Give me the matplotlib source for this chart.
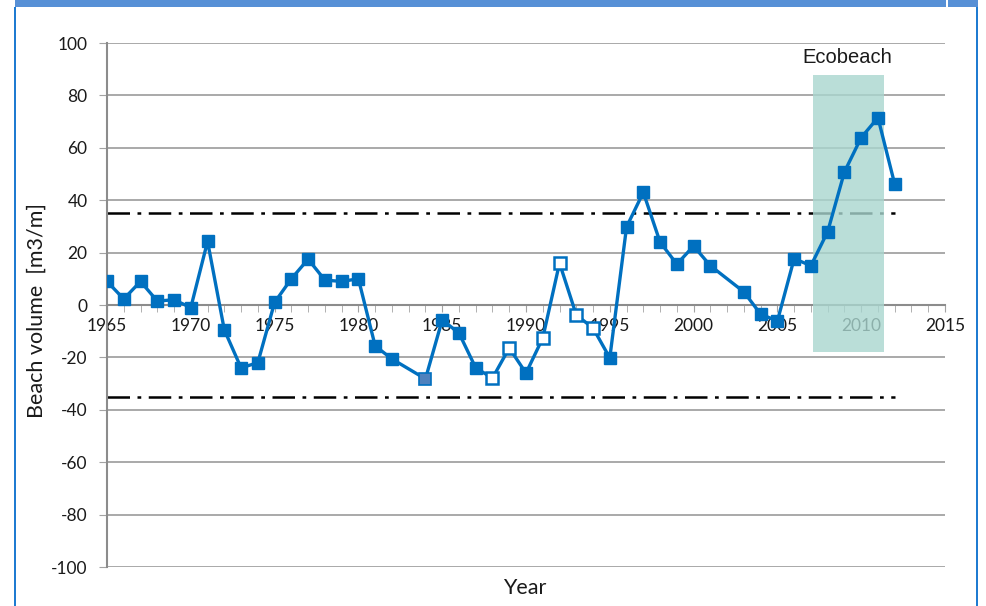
#!/usr/bin/env python3
"""Beach volume anomaly per year, with the Ecobeach period shaded."""

import matplotlib

matplotlib.use("Agg")
import matplotlib.pyplot as plt
import matplotlib.ticker as mticker
from matplotlib.patches import Rectangle

years = [1965, 1966, 1967, 1968, 1969, 1970, 1971, 1972, 1973, 1974,
         1975, 1976, 1977, 1978, 1979, 1980, 1981, 1982, 1984, 1985,
         1986, 1987, 1988, 1989, 1990, 1991, 1992, 1993, 1994, 1995,
         1996, 1997, 1998, 1999, 2000, 2001, 2003, 2004, 2005, 2006,
         2007, 2008, 2009, 2010, 2011, 2012]
volume = [9, 2.3, 9, 1.5, 2, -1, 24.3, -9.5, -24, -22,
          1, 10, 17.5, 9.5, 9, 10, -15.6, -20.6, -28.2, -5.7,
          -10.7, -24, -27.9, -16.4, -26, -12.6, 16, -3.8, -8.8, -20.2,
          29.8, 43, 24, 15.6, 22.5, 15, 5, -3.5, -6.1, 17.7,
          15, 28, 50.8, 63.9, 71.5, 46.1]
hollow_years = [1988, 1989, 1991, 1992, 1993, 1994]
odd_years = [1984]

threshold = 35
threshold_span = (1965, 2012)
eco_span = (2007.1, 2011.35)
eco_vspan = (-17.9, 87.8)

BLUE = "#0070C0"
FRAME = "#1F7BD1"
GRID = "#a3a3a3"
TEXT = "#1a1a1a"

plt.rcParams["font.family"] = ["Lato", "DejaVu Sans"]

fig = plt.figure(figsize=(9.86, 6.06), dpi=100)
ax = fig.add_axes([107 / 986, 1 - 567 / 606, (945 - 107) / 986, (567 - 43) / 606])

ax.set_xlim(1965, 2015)
ax.set_ylim(-100, 100)
ax.yaxis.set_major_locator(mticker.MultipleLocator(20))
ax.xaxis.set_major_locator(mticker.MultipleLocator(5))
ax.xaxis.set_minor_locator(mticker.MultipleLocator(1))
ax.grid(True, axis="y", color=GRID, linewidth=1.3, zorder=0)

for side in ("top", "right"):
    ax.spines[side].set_visible(False)
ax.spines["left"].set_color("#8c8c8c")
ax.spines["left"].set_linewidth(1.5)
ax.spines["bottom"].set_position(("data", 0))
ax.spines["bottom"].set_color("#8c8c8c")
ax.spines["bottom"].set_linewidth(1.5)

ax.tick_params(axis="y", length=6, color=GRID, labelsize=12.5, labelcolor=TEXT, pad=8)
ax.tick_params(axis="x", which="both", length=5, color=GRID, labelsize=12.5, labelcolor=TEXT, pad=4)
ax.yaxis.set_major_formatter(mticker.FuncFormatter(lambda v, _: f"{v:.0f}"))

ax.add_patch(Rectangle((eco_span[0], eco_vspan[0]), eco_span[1] - eco_span[0],
                       eco_vspan[1] - eco_vspan[0], facecolor="#a9d6cf",
                       alpha=0.8, edgecolor="none", zorder=2.6))
ax.text(sum(eco_span) / 2 - 0.05, 94.5, "Ecobeach", ha="center", va="center",
        fontsize=14.5, color=TEXT, family=["Liberation Sans", "DejaVu Sans"], zorder=4)

for y in (threshold, -threshold):
    ax.plot(threshold_span, [y, y], color="black", linewidth=1.8,
            dashes=(9, 3, 1.5, 3), zorder=2.5)

ax.plot(years, volume, color=BLUE, linewidth=2.4, zorder=3)
solid_x = [x for x in years if x not in hollow_years and x not in odd_years]
solid_y = [v for x, v in zip(years, volume) if x in solid_x]
ax.plot(solid_x, solid_y, "s", color=BLUE, markersize=8, zorder=4)
hx = [x for x in years if x in hollow_years]
hy = [v for x, v in zip(years, volume) if x in hollow_years]
ax.plot(hx, hy, "s", markerfacecolor="white", markeredgecolor=BLUE,
        markeredgewidth=1.8, markersize=8, zorder=4)
ox = [x for x in years if x in odd_years]
oy = [v for x, v in zip(years, volume) if x in odd_years]
ax.plot(ox, oy, "s", markerfacecolor="#4f81bd", markeredgecolor=BLUE,
        markeredgewidth=1.2, markersize=8, zorder=4)

fig.text(37 / 986, 1 - 310 / 606, "Beach volume  [m3/m]", rotation=90,
         ha="center", va="center", fontsize=15.5, color=TEXT)
fig.text(525 / 986, 1 - 588 / 606, "Year", ha="center", va="center",
         fontsize=15.5, color=TEXT)

# blue frame around the chart
fig.patches.append(Rectangle((15 / 986, 1 - 7 / 606), (978 - 15) / 986, 7 / 606,
                             transform=fig.transFigure, facecolor="#5790d6",
                             edgecolor="none"))
fig.patches.append(Rectangle((946 / 986, 1 - 7 / 606), 2 / 986, 7 / 606,
                             transform=fig.transFigure, facecolor="white",
                             edgecolor="none"))
for x0 in (14, 976):
    fig.patches.append(Rectangle((x0 / 986, 0), 2 / 986, 1 - 7 / 606,
                                 transform=fig.transFigure, facecolor=FRAME,
                                 edgecolor="none"))

fig.savefig("out.png", dpi=100)
